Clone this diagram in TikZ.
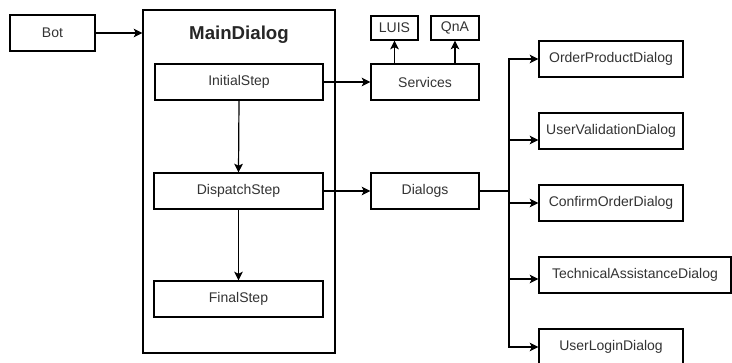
\documentclass[tikz,border=0pt]{standalone}
\usepackage{fontspec}
\setmainfont{Liberation Sans}
\usetikzlibrary{arrows.meta,calc}
\begin{document}
\begin{tikzpicture}[x=0.75pt,y=-0.75pt,
  box/.style={draw=black,line width=0.9pt,fill=white,inner sep=0pt,minimum height=27pt,font=\fontsize{10.5}{12}\selectfont,text=black!80},
  arr/.style={draw=black,line width=0.9pt,-{Stealth[length=6.5pt,width=6.5pt,inset=1.5pt]}},
  ln/.style={draw=black,line width=0.9pt}]
\useasboundingbox (0,0) rectangle (732,363);
\fill[white] (0,0) rectangle (732,363);
% main container
\node[box,minimum width=144pt,minimum height=257.25pt] (main) at (239,181.5) {};
\node[font=\bfseries\fontsize{14}{16}\selectfont,text=black!85] (title) at (239,35) {MainDialog};
\node[box,minimum width=63.75pt] (bot) at (52.5,33) {Bot};
\node[box,minimum width=126pt] (init) at (239,82) {InitialStep};
\node[box,minimum width=126.75pt] (disp) at (238.5,191) {DispatchStep};
\node[box,minimum width=126.75pt] (final) at (238.5,299) {FinalStep};
\node[box,minimum width=81pt] (serv) at (425,82) {Services};
\node[box,minimum width=35.25pt,minimum height=18pt] (luis) at (394.5,28) {LUIS};
\node[box,minimum width=36pt,minimum height=18pt] (qna) at (455,28) {QnA};
\node[box,minimum width=81pt] (dlg) at (425,191) {Dialogs};
\node[box,minimum width=108pt] (opd) at (611,59) {OrderProductDialog};
\node[box,minimum width=108pt] (uvd) at (611,131) {UserValidationDialog};
\node[box,minimum width=108pt] (cod) at (611,203) {ConfirmOrderDialog};
\node[box,minimum width=144pt] (tad) at (635,275) {TechnicalAssistanceDialog};
\node[box,minimum width=108pt] (uld) at (611,347) {UserLoginDialog};
\coordinate (bus) at (509,191);
% connectors
\draw[arr] (bot.east) -- (bot.east -| main.west);
\draw[arr] (init.east) -- (serv.west);
\draw[arr] (init.south) -- (disp.north);
\draw[arr] (disp.south) -- (final.north);
\draw[arr] (disp.east) -- (dlg.west);
\draw[arr] (serv.north -| luis.south) -- (luis.south);
\draw[arr] (serv.north -| qna.south) -- (qna.south);
\draw[ln] (dlg.east) -- (bus);
\draw[arr] (bus) |- (opd.west);
\draw[arr] (bus) |- ($(uvd.west)+(0,9)$);
\draw[arr] (bus) |- (cod.west);
\draw[arr] (bus) |- ($(tad.west)+(0,4)$);
\draw[arr] (bus) |- (uld.west);
\end{tikzpicture}
\end{document}
